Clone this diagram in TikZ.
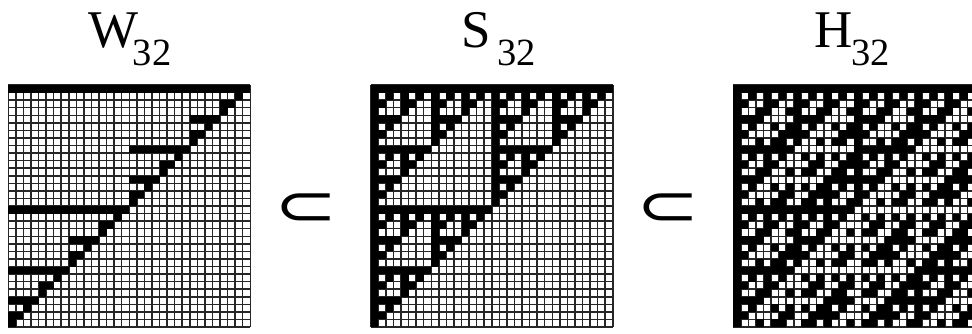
\documentclass[tikz,border=0pt]{standalone}
\usepackage{fontspec}
\setmainfont{Liberation Serif}
\newfontfamily\symfont{DejaVu Sans}
\usetikzlibrary{positioning}
\newcommand{\cellsize}{7.5625}
\newcommand{\subtext}[1]{\raisebox{-18pt}{\fontsize{38.5}{40}\selectfont #1}}
\tikzset{
  cellfill/.style={fill=black},
  cellgrid/.style={draw=black!85, line width=1.5pt, step=\cellsize},
  matlabel/.style={font=\fontsize{53}{56}\selectfont, anchor=base, inner sep=0pt},
  incl/.style={font=\symfont\fontsize{58}{60}\selectfont, inner sep=0pt}
}

\begin{document}
\begin{tikzpicture}[x=1pt, y=1pt]
  \useasboundingbox (0,0) rectangle (972,333);
  \clip (0,0) rectangle (972,333);
  \fill[white] (0,0) rectangle (972,333);

  % labels
  \node[matlabel] (labW) at (130,286) {W\kern-6pt\subtext{32}};
  \node[matlabel] (labS) at (499,286) {S\kern6.5pt\subtext{32}};
  \node[matlabel] (labH) at (852,286) {H\kern-1pt\subtext{32}};

  % W_32
  \begin{scope}[shift={(8.3,6)}]
    \draw[cellgrid] (0,0) grid (242.01,242.01);
    \foreach \i in {0,...,31}{
      \pgfmathtruncatemacro\lowbit{\i==0 ? 32 : (mod(\i,2)==1 ? 1 : (mod(\i,4)==2 ? 2 : (mod(\i,8)==4 ? 4 : (mod(\i,16)==8 ? 8 : 16))))}
      \fill[cellfill] ({(32-\i-\lowbit)*\cellsize}, {(31-\i)*\cellsize}) rectangle ++({\lowbit*\cellsize}, \cellsize);
    }
  \end{scope}

  % S_32
  \begin{scope}[shift={(370.8,6)}]
    \draw[cellgrid] (0,0) grid (242.01,242.01);
    \foreach \i in {0,...,31}{
      \foreach \j in {0,...,31}{
        \pgfmathtruncatemacro\andbits{mod(\i,2)*mod(\j,2)+mod(int(\i/2),2)*mod(int(\j/2),2)+mod(int(\i/4),2)*mod(int(\j/4),2)+mod(int(\i/8),2)*mod(int(\j/8),2)+mod(int(\i/16),2)*mod(int(\j/16),2)}
        \ifnum\andbits=0
          \fill[cellfill] ({\j*\cellsize}, {(31-\i)*\cellsize}) rectangle ++(\cellsize, \cellsize);
        \fi
      }
    }
  \end{scope}

  % H_32
  \begin{scope}[shift={(733.3,6)}]
    \draw[cellgrid] (0,0) grid (242.01,242.01);
    \foreach \i in {0,...,31}{
      \foreach \j in {0,...,31}{
        \pgfmathtruncatemacro\parity{mod(mod(\i,2)*mod(\j,2)+mod(int(\i/2),2)*mod(int(\j/2),2)+mod(int(\i/4),2)*mod(int(\j/4),2)+mod(int(\i/8),2)*mod(int(\j/8),2)+mod(int(\i/16),2)*mod(int(\j/16),2),2)}
        \ifnum\parity=0
          \fill[cellfill] ({\j*\cellsize}, {(31-\i)*\cellsize}) rectangle ++(\cellsize, \cellsize);
        \fi
      }
    }
  \end{scope}

  % inclusions
  \node[incl] (sub1) at (306,123) {\scalebox{1.3}[1]{⊂}};
  \node[incl] (sub2) at (668,123) {\scalebox{1.3}[1]{⊂}};
\end{tikzpicture}
\end{document}
